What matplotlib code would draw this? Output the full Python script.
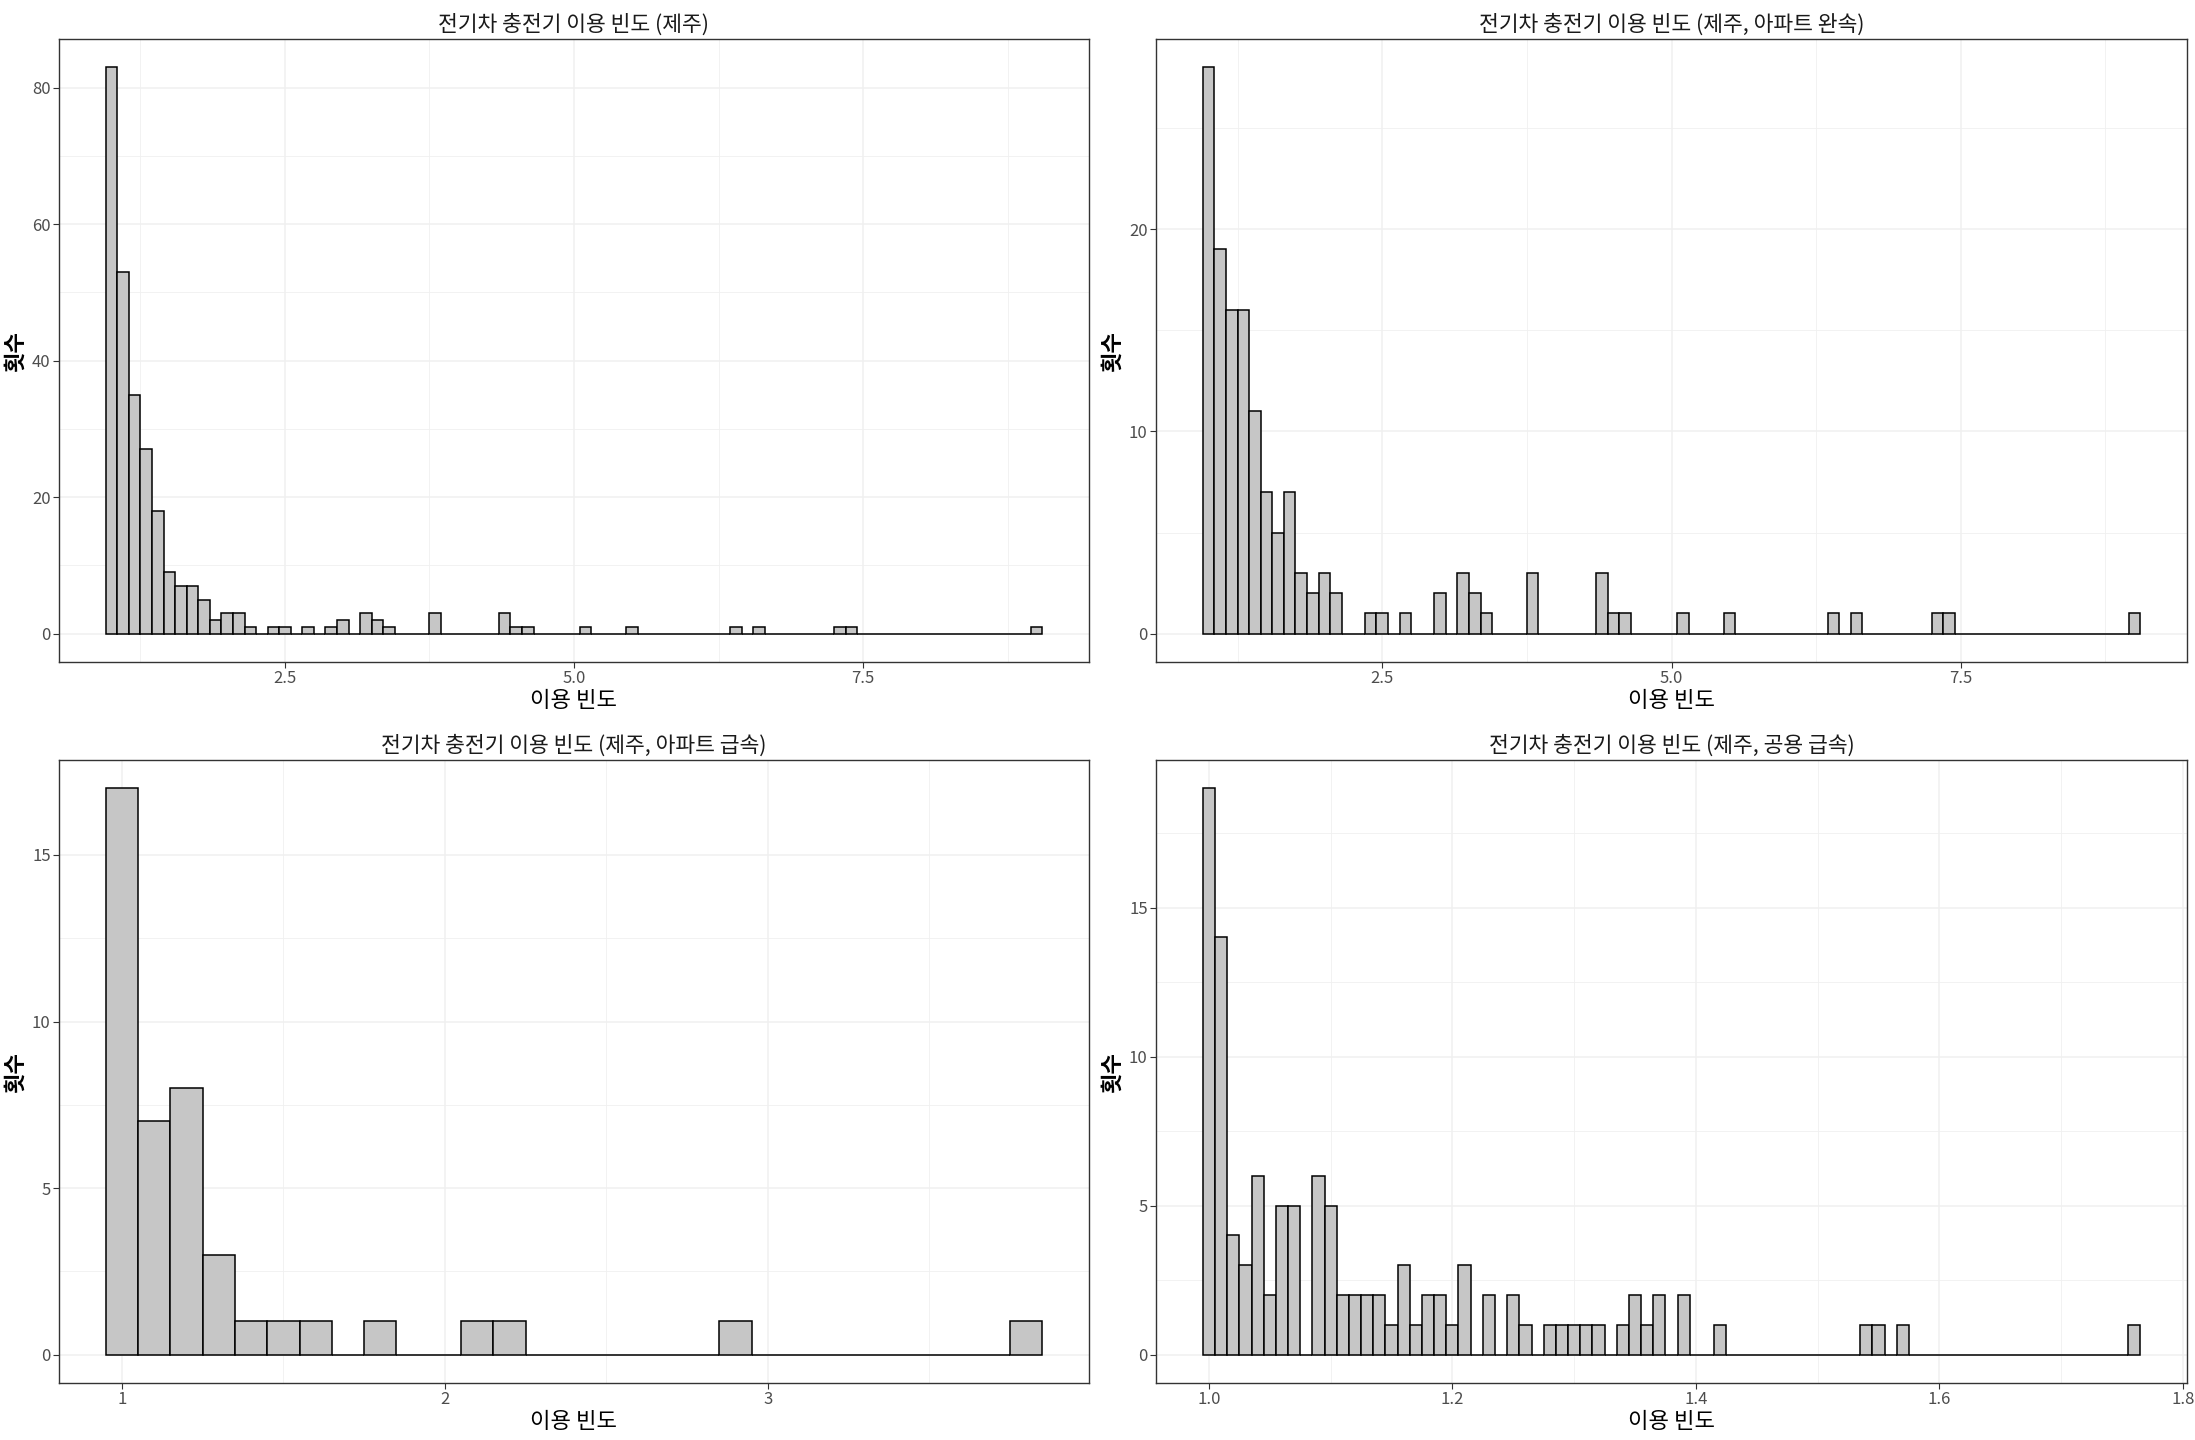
import matplotlib.pyplot as plt
import numpy as np

plt.rcParams['font.family'] = ['Noto Sans CJK KR', 'DejaVu Sans']

# Histogram counts.
# Panels 1-3: bin width 0.1, first bin centred at 1.0
jeju_counts = [83, 53, 35, 27, 18, 9, 7, 7, 5, 2,
               3, 3, 1, 0, 1, 1, 0, 1, 0, 1,
               2, 0, 3, 2, 1, 0, 0, 0, 3, 0,
               0, 0, 0, 0, 3, 1, 1, 0, 0, 0,
               0, 1, 0, 0, 0, 1, 0, 0, 0, 0,
               0, 0, 0, 0, 1, 0, 1, 0, 0, 0,
               0, 0, 0, 1, 1, 0, 0, 0, 0, 0,
               0, 0, 0, 0, 0, 0, 0, 0, 0, 0,
               1]
apt_slow_counts = [28, 19, 16, 16, 11, 7, 5, 7, 3, 2,
                   3, 2, 0, 0, 1, 1, 0, 1, 0, 0,
                   2, 0, 3, 2, 1, 0, 0, 0, 3, 0,
                   0, 0, 0, 0, 3, 1, 1, 0, 0, 0,
                   0, 1, 0, 0, 0, 1, 0, 0, 0, 0,
                   0, 0, 0, 0, 1, 0, 1, 0, 0, 0,
                   0, 0, 0, 1, 1, 0, 0, 0, 0, 0,
                   0, 0, 0, 0, 0, 0, 0, 0, 0, 0,
                   1]
apt_fast_counts = [17, 7, 8, 3, 1, 1, 1, 0, 1, 0,
                   0, 1, 1, 0, 0, 0, 0, 0, 0, 1,
                   0, 0, 0, 0, 0, 0, 0, 0, 1]
# Panel 4: bin width 0.01, first bin centred at 1.00
public_fast_counts = [19, 14, 4, 3, 6, 2, 5, 5, 0, 6,
                      5, 2, 2, 2, 2, 1, 3, 1, 2, 2,
                      1, 3, 0, 2, 0, 2, 1, 0, 1, 1,
                      1, 1, 1, 0, 1, 2, 1, 2, 0, 2,
                      0, 0, 1, 0, 0, 0, 0, 0, 0, 0,
                      0, 0, 0, 0, 1, 1, 0, 1, 0, 0,
                      0, 0, 0, 0, 0, 0, 0, 0, 0, 0,
                      0, 0, 0, 0, 0, 0, 1]

titles = ['전기차 충전기 이용 빈도 (제주)',
          '전기차 충전기 이용 빈도 (제주, 아파트 완속)',
          '전기차 충전기 이용 빈도 (제주, 아파트 급속)',
          '전기차 충전기 이용 빈도 (제주, 공용 급속)']

FILL = '#C6C6C6'
GRID = '#F0F0F0'
FRAME = '#333333'
TICK_TEXT = '#4D4D4D'


def draw_hist(ax, counts, start, bw, title, xmajor, xlabels, xminor,
              ymajor, yminor):
    counts = np.asarray(counts)
    centers = start + bw * np.arange(len(counts))
    ax.bar(centers, counts, width=bw, color=FILL, edgecolor='black',
           linewidth=1.1, zorder=3)

    # ggplot-style 5% expansion on both axes
    lo, hi = centers[0] - bw / 2, centers[-1] + bw / 2
    pad = 0.05 * (hi - lo)
    ax.set_xlim(lo - pad, hi + pad)
    top = counts.max()
    ax.set_ylim(-0.05 * top, 1.05 * top)

    ax.set_xticks(xmajor)
    ax.set_xticklabels(xlabels)
    ax.set_xticks(xminor, minor=True)
    ax.set_yticks(ymajor)
    ax.set_yticks(yminor, minor=True)
    ax.grid(which='major', color=GRID, linewidth=1.1, zorder=0)
    ax.grid(which='minor', color=GRID, linewidth=0.6, zorder=0)
    ax.set_axisbelow(True)

    ax.tick_params(which='major', direction='out', length=4, width=0.8,
                   color=FRAME, labelcolor=TICK_TEXT, labelsize=12, pad=2)
    ax.tick_params(which='minor', length=0)
    for sp in ax.spines.values():
        sp.set_color(FRAME)
        sp.set_linewidth(1.0)

    ax.set_title(title, fontsize=15.5, pad=6, color='#1A1A1A')
    ax.set_xlabel('이용 빈도', fontsize=16, labelpad=1, color='black')
    ax.set_ylabel('횟수', fontsize=16, labelpad=4, color='black',
                  fontweight='bold')


fig = plt.figure(figsize=(21.95, 14.4), dpi=100)
fig.patch.set_facecolor('white')

W, H = 2195.0, 1440.0
boxes = [(59, 39, 1089, 662), (1156, 39, 2187, 662),
         (59, 760, 1089, 1383), (1156, 760, 2187, 1383)]
axes = [fig.add_axes([l / W, 1 - b / H, (r - l) / W, (b - t) / H])
        for (l, t, r, b) in boxes]

draw_hist(axes[0], jeju_counts, 1.0, 0.1, titles[0],
          [2.5, 5.0, 7.5], ['2.5', '5.0', '7.5'], [1.25, 3.75, 6.25, 8.75],
          [0, 20, 40, 60, 80], [10, 30, 50, 70])
draw_hist(axes[1], apt_slow_counts, 1.0, 0.1, titles[1],
          [2.5, 5.0, 7.5], ['2.5', '5.0', '7.5'], [1.25, 3.75, 6.25, 8.75],
          [0, 10, 20], [5, 15, 25])
draw_hist(axes[2], apt_fast_counts, 1.0, 0.1, titles[2],
          [1, 2, 3], ['1', '2', '3'], [1.5, 2.5, 3.5],
          [0, 5, 10, 15], [2.5, 7.5, 12.5])
draw_hist(axes[3], public_fast_counts, 1.0, 0.01, titles[3],
          [1.0, 1.2, 1.4, 1.6, 1.8], ['1.0', '1.2', '1.4', '1.6', '1.8'],
          [1.1, 1.3, 1.5, 1.7],
          [0, 5, 10, 15], [2.5, 7.5, 12.5, 17.5])

fig.savefig('out.png', dpi=100, facecolor='white')
